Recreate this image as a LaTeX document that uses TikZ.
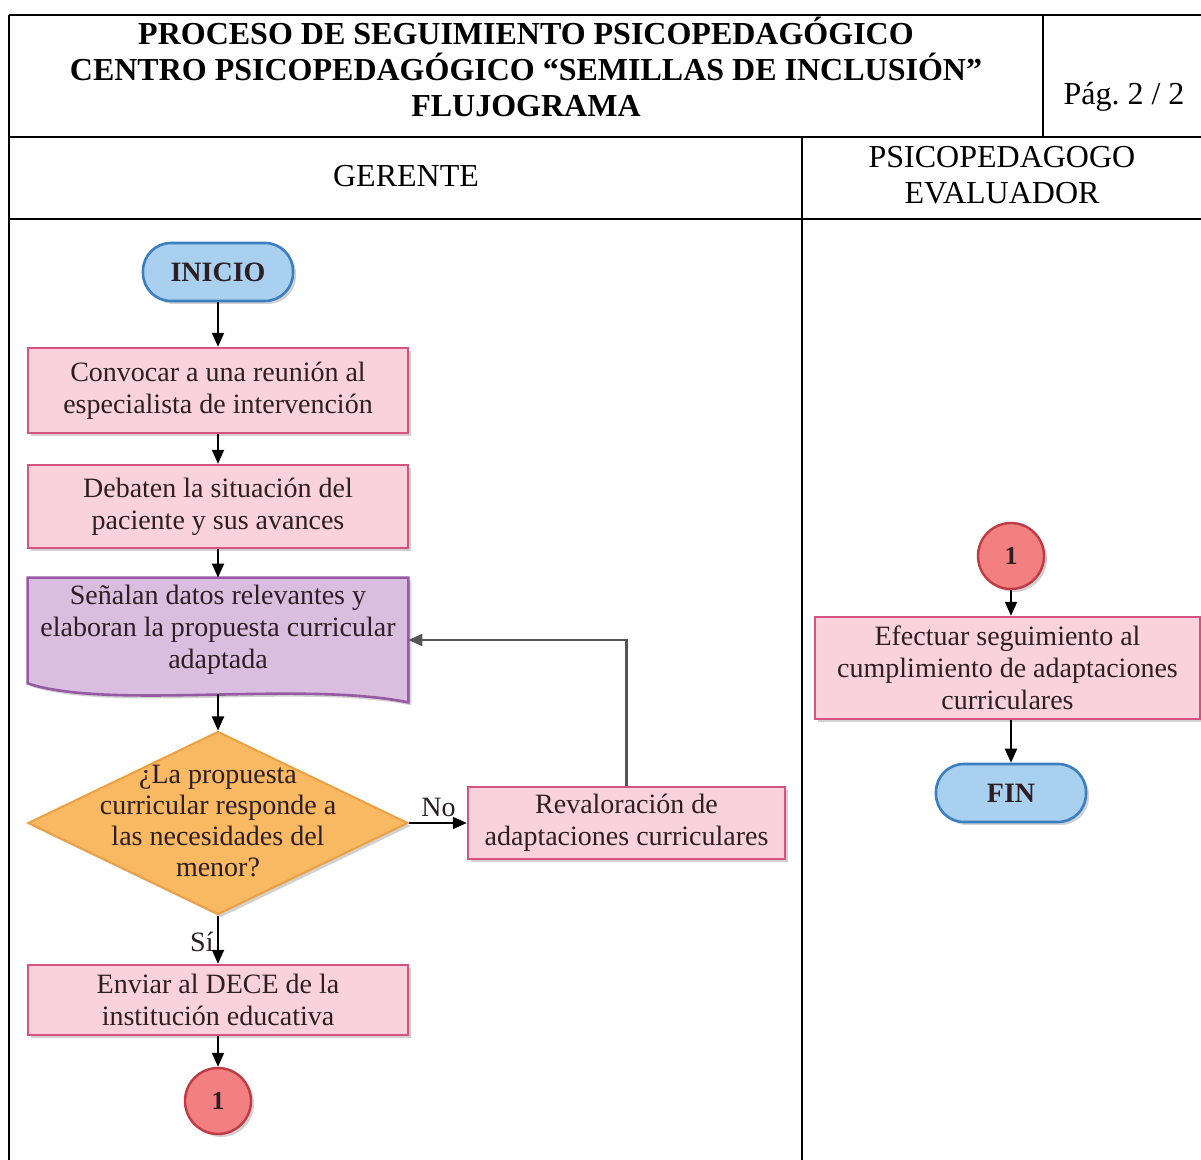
\documentclass[tikz,border=0pt]{standalone}
\usepackage{fontspec}
\setmainfont{Liberation Serif}
\usetikzlibrary{shapes.geometric,arrows.meta,shadows,calc,backgrounds}
\definecolor{pinkfill}{RGB}{250,210,222}
\definecolor{pinkline}{RGB}{214,82,128}
\definecolor{purfill}{RGB}{218,190,224}
\definecolor{purline}{RGB}{150,90,165}
\definecolor{orfill}{RGB}{249,184,98}
\definecolor{orline}{RGB}{236,160,66}
\definecolor{bluefill}{RGB}{170,208,240}
\definecolor{blueline}{RGB}{58,128,192}
\definecolor{redfill}{RGB}{242,128,128}
\definecolor{redline}{RGB}{192,58,68}
\definecolor{loopgray}{RGB}{85,85,85}
\definecolor{txt}{RGB}{45,30,35}
\begin{document}
\begin{tikzpicture}[x=0.5pt,y=-0.5pt,
  frame/.style={line width=1.3pt},
  hdr/.style={font=\fontsize{16}{18}\selectfont, anchor=base, inner sep=0pt},
  hdrb/.style={font=\bfseries\fontsize{16}{18}\selectfont, anchor=base, inner sep=0pt},
  shade/.style={drop shadow={shadow xshift=1.5pt,shadow yshift=-1.5pt,opacity=0.18,fill=black}},
  proc/.style={rectangle, draw=pinkline, fill=pinkfill, line width=1.2pt,
    font=\fontsize{14}{16}\selectfont, text=txt, align=center, inner sep=0pt, shade},
  term/.style={rectangle, rounded corners=14pt, draw=blueline, fill=bluefill, line width=1.3pt,
    font=\bfseries\fontsize{14}{16}\selectfont, text=txt, minimum width=75pt, minimum height=29pt, inner sep=0pt, shade},
  conn/.style={circle, draw=redline, fill=redfill, line width=1.2pt, minimum size=33pt,
    font=\bfseries\fontsize{13}{15}\selectfont, text=txt, inner sep=0pt, shade},
  decision/.style={diamond, draw=orline, fill=orfill, line width=1pt, minimum width=190pt,
    minimum height=91.5pt, inner sep=0pt, font=\fontsize{14}{15.5}\selectfont, text=txt, shade},
  lbl/.style={font=\fontsize{14}{16}\selectfont, text=txt, inner sep=0pt},
  flow/.style={-{Triangle[length=7pt,width=6pt]}, line width=1pt, black},
  loopline/.style={-{Triangle[length=7pt,width=6pt]}, line width=1.3pt, loopgray}
]
\useasboundingbox (0,0) rectangle (1201,1160);

% ---------- frame ----------
\draw[frame] (9,15) -- (1201,15);
\draw[frame] (9,15) -- (9,1160);
\draw[frame] (9,137) -- (1201,137);
\draw[frame] (9,219) -- (1201,219);
\draw[frame] (1043,15) -- (1043,137);
\draw[frame] (802,137) -- (802,1160);

\node[hdrb] (t1) at (526,45) {PROCESO DE SEGUIMIENTO PSICOPEDAG\'OGICO};
\node[hdrb] (t2) at (526,81) {CENTRO PSICOPEDAG\'OGICO “SEMILLAS DE INCLUSI\'ON”};
\node[hdrb] (t3) at (526,117) {FLUJOGRAMA};
\node[hdr] (pag) at (1124,105) {Pág.\ 2 / 2};
\node[hdr] (lane1) at (406,187) {GERENTE};
\node[hdr] (lane2a) at (1002,168) {PSICOPEDAGOGO};
\node[hdr] (lane2b) at (1002,204) {EVALUADOR};

% ---------- left lane ----------
\node[term] (inicio) at (218,272) {INICIO};
\node[proc, minimum width=190pt, minimum height=42.5pt] (b1) at (218,390.5)
  {Convocar a una reunión al\\especialista de intervención};
\node[proc, minimum width=190pt, minimum height=41.5pt] (b2) at (218,506.5)
  {Debaten la situación del\\paciente y sus avances};
\node[rectangle, minimum width=190pt, minimum height=52pt, inner sep=0pt,
  font=\fontsize{14}{16}\selectfont, text=txt, align=center] (doc) at (218,630)
  {Señalan datos relevantes y\\elaboran la propuesta curricular\\adaptada};
\coordinate (docb) at ($(doc.south)+(0,12)$);
\node[decision] (dec) at (218,823)
  {\makebox[0pt]{\raisebox{-1.3ex}{\smash{\begin{tabular}{@{}c@{}}¿La propuesta\\curricular responde a\\las necesidades del\\menor?\end{tabular}}}}};
\node[proc, minimum width=158.5pt, minimum height=36pt] (rev) at (626.5,823)
  {Revaloración de\\adaptaciones curriculares};
\node[proc, minimum width=190pt, minimum height=35pt] (b5) at (218,1000)
  {Enviar al DECE de la\\institución educativa};
\node[conn] (c1) at (218,1101) {1};

\node[lbl, anchor=south west] (nolbl) at ([xshift=6pt,yshift=3pt]dec.east) {No};
\node[lbl, anchor=east] (silbl) at ([xshift=-2pt,yshift=-13pt]dec.south) {Sí};

% ---------- right lane ----------
\node[conn] (c2) at (1011,556) {1};
\node[proc, minimum width=192.5pt, minimum height=51pt] (b6) at (1007.5,668)
  {Efectuar seguimiento al\\cumplimiento de adaptaciones\\curriculares};
\node[term] (fin) at (1011,793) {FIN};

% ---------- background: page and document shape ----------
\begin{scope}[on background layer]
  \fill[white] (0,0) rectangle (1201,1160);
  \draw[draw=purline, fill=purfill, line width=1.3pt, shade]
    (doc.north west) -- (doc.north east) -- ($(doc.south east)+(0,20)$)
    .. controls ($(doc.south west)+(272,-2)$) and ($(doc.south west)+(82,28)$) .. ($(doc.south west)+(0,1)$)
    -- cycle;
\end{scope}

% ---------- connectors ----------
\draw[flow] (inicio) -- (b1);
\draw[flow] (b1) -- (b2);
\draw[flow] (b2) -- (doc.north);
\draw[flow] (docb) -- (dec.north);
\draw[flow] (dec.east) -- (rev.west);
\draw[loopline] (rev.north) |- ([yshift=-5pt]doc.east);
\draw[flow] (dec.south) -- (b5.north);
\draw[flow] (b5) -- (c1);
\draw[flow] (c2.south) -- (c2.south |- b6.north);
\draw[flow] (fin.north |- b6.south) -- (fin.north);
\end{tikzpicture}
\end{document}
